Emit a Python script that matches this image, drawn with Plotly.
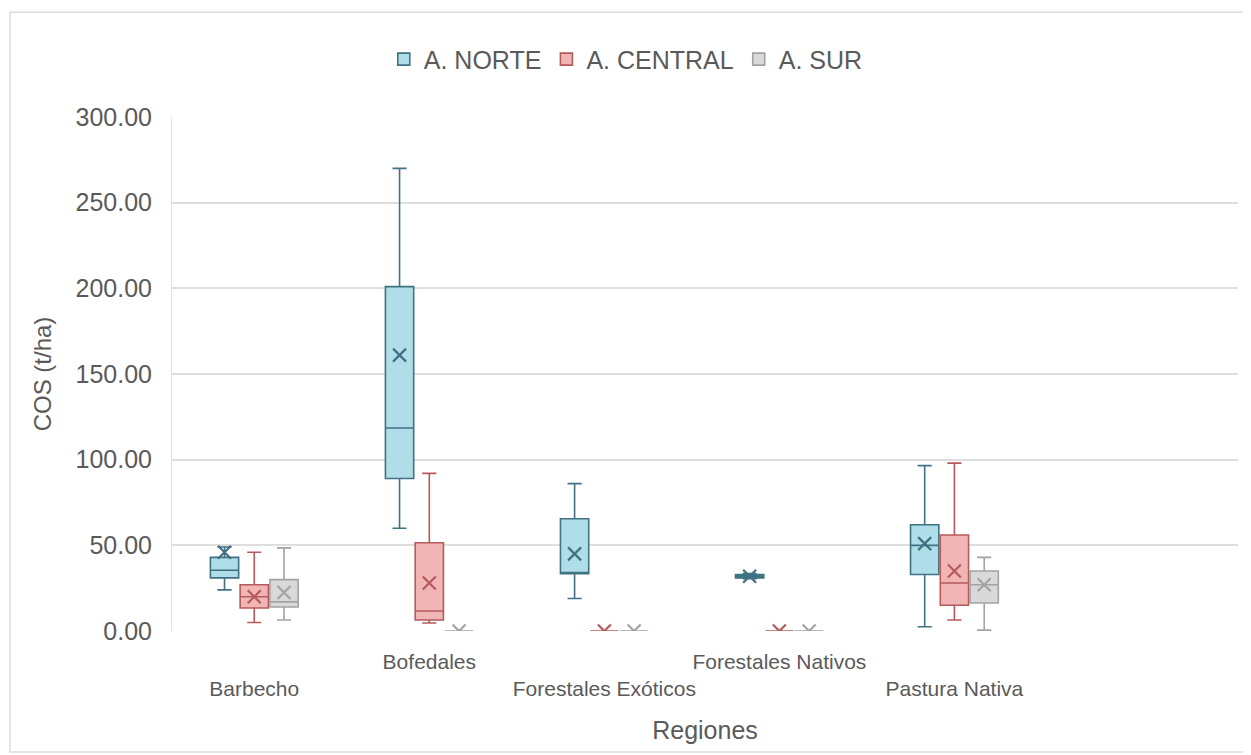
import plotly.graph_objects as go

categories = ["Barbecho", "Bofedales", "Forestales Exóticos", "Forestales Nativos", "Pastura Nativa"]
tick_text = ["<br>Barbecho", "Bofedales", "<br>Forestales Exóticos", "Forestales Nativos", "<br>Pastura Nativa"]
series_names = ["A. NORTE", "A. CENTRAL", "A. SUR"]

# box statistics per series (order follows categories)
norte_low = [24.0, 60.0, 19.0, 30.5, 2.5]
norte_q1 = [31.0, 89.0, 33.5, 31.0, 33.0]
norte_med = [35.5, 118.5, 34.0, 32.0, 50.0]
norte_q3 = [43.0, 201.0, 65.5, 33.0, 62.0]
norte_high = [49.0, 270.0, 86.0, 33.5, 96.5]
norte_mean = [46.0, 161.0, 45.0, 32.0, 51.0]

central_low = [5.0, 4.7, 0.0, 0.0, 6.4]
central_q1 = [13.4, 6.4, 0.0, 0.0, 15.0]
central_med = [20.0, 11.7, 0.0, 0.0, 28.0]
central_q3 = [27.0, 51.5, 0.0, 0.0, 56.0]
central_high = [46.0, 92.0, 0.0, 0.0, 98.0]
central_mean = [20.0, 28.0, 0.0, 0.0, 35.0]

sur_low = [6.4, 0.0, 0.0, 0.0, 0.5]
sur_q1 = [14.0, 0.0, 0.0, 0.0, 16.3]
sur_med = [17.0, 0.0, 0.0, 0.0, 27.0]
sur_q3 = [30.0, 0.0, 0.0, 0.0, 35.0]
sur_high = [48.5, 0.0, 0.0, 0.0, 43.0]
sur_mean = [22.5, 0.0, 0.0, 0.0, 27.0]

fills = ["#afdde8", "#f1b5b5", "#d9d9d9"]
lines = ["#3f7282", "#b55a5a", "#a3a3a3"]

stats = [
    (norte_low, norte_q1, norte_med, norte_q3, norte_high, norte_mean),
    (central_low, central_q1, central_med, central_q3, central_high, central_mean),
    (sur_low, sur_q1, sur_med, sur_q3, sur_high, sur_mean),
]

GAP = 0.49
fig = go.Figure()
for name, (lo, q1, med, q3, hi, mean), fc, lc in zip(series_names, stats, fills, lines):
    fig.add_trace(go.Box(
        name=name, x=categories, lowerfence=lo, q1=q1, median=med, q3=q3, upperfence=hi,
        fillcolor=fc, line=dict(color=lc, width=1.6), whiskerwidth=0.5,
        boxpoints=False, legendgroup=name,
    ))
for name, (lo, q1, med, q3, hi, mean), fc, lc in zip(series_names, stats, fills, lines):
    fig.add_trace(go.Scatter(
        name=name, x=categories, y=mean, mode="markers", showlegend=False, legendgroup=name,
        marker=dict(symbol="x-thin", size=13, line=dict(color=lc, width=2.2)),
    ))

font_c = "#5a5a5a"
fig.update_layout(
    width=1243, height=747,
    margin=dict(l=164, r=13, t=109, b=124, autoexpand=False),
    paper_bgcolor="white", plot_bgcolor="white",
    font=dict(family="Liberation Sans, Arial, sans-serif", color=font_c),
    boxmode="group", boxgap=GAP, boxgroupgap=0.05,
    scattermode="group", scattergap=GAP,
    legend=dict(orientation="h", xref="container", x=0.497, xanchor="center",
                yref="container", y=0.962, yanchor="top",
                font=dict(size=25, color=font_c), itemwidth=30, tracegroupgap=0),
    shapes=[dict(type="rect", xref="paper", yref="paper",
                 x0=-0.152, x1=1.0094, y0=-0.2354, y1=1.204,
                 line=dict(color="#dcdcdc", width=1.5), fillcolor="rgba(0,0,0,0)", layer="below")],
)
fig.update_xaxes(
    type="category", range=[-0.47, 5.62], tickmode="array", tickvals=categories, ticktext=tick_text,
    tickangle=0, automargin=False,
    tickfont=dict(size=21, color=font_c), ticklabelstandoff=16, showgrid=False, zeroline=False,
    showline=False,
    title=dict(text="Regiones", font=dict(size=25, color=font_c), standoff=22),
)
fig.update_yaxes(
    range=[0, 300], dtick=50, tickformat=".2f", automargin=False,
    tickfont=dict(size=25, color=font_c), ticklabelstandoff=14,
    showgrid=True, gridcolor="#dedede", gridwidth=1.6, zeroline=False,
    showline=True, linecolor="#e2e2e2", linewidth=1,
    title=dict(text="COS (t/ha)", font=dict(size=24, color=font_c), standoff=17),
)

fig.write_html("out.html")
